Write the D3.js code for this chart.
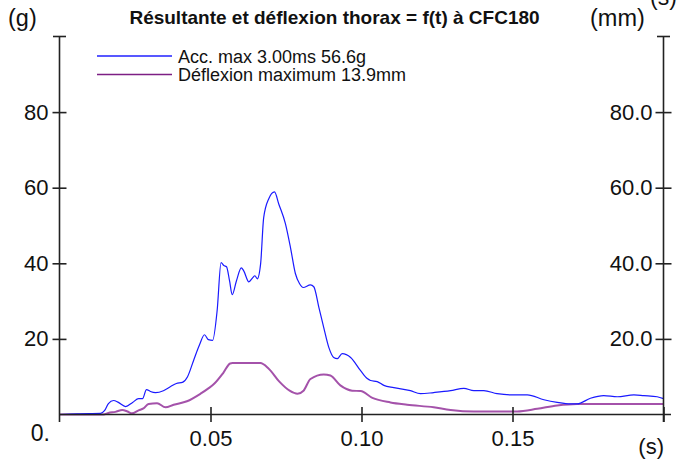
<!DOCTYPE html>
<html><head><meta charset="utf-8">
<script src="https://cdn.jsdelivr.net/npm/d3@7"></script>
<style>body{margin:0;background:#fff}svg{display:block}text{font-family:"Liberation Sans",Arial,sans-serif;fill:#111}</style>
</head><body><svg id="c" width="682" height="459"></svg>
<script>
const title = "Résultante et déflexion thorax = f(t) à CFC180";
const legendLabels = ["Acc. max 3.00ms 56.6g", "Déflexion maximum 13.9mm"];
const yTicksLeft = [20, 40, 60, 80];
const yTicksRight = [20, 40, 60, 80];
const xTicks = [0.05, 0.10, 0.15, 0.20];
const xTickLabels = ["0.05", "0.10", "0.15", ""];

const accT = [0,0.006,0.0136,0.0149,0.0162,0.0179,0.0195,0.0219,0.0242,0.0262,0.0275,0.0288,0.0301,0.0318,0.0344,0.0368,0.0387,0.0407,0.0424,0.0444,0.0464,0.0480,0.0493,0.0507,0.0522,0.0535,0.0544,0.0553,0.0563,0.0572,0.0586,0.0602,0.0610,0.0627,0.0640,0.0647,0.0655,0.0666,0.0676,0.0693,0.0712,0.0726,0.0748,0.0765,0.0781,0.0795,0.0807,0.0831,0.0842,0.0859,0.0875,0.0892,0.0908,0.0920,0.0936,0.0964,0.0997,0.1019,0.1030,0.1052,0.1074,0.1107,0.1162,0.1195,0.1239,0.1295,0.1339,0.1372,0.1405,0.1449,0.1493,0.1549,0.1604,0.1648,0.1692,0.1714,0.1758,0.1802,0.1847,0.1902,0.1935,0.1979,0.2000];
const accV = [0,0.2,0.3,1.0,2.9,3.7,3.2,2.1,3.2,4.2,4.2,6.6,6.1,5.8,6.3,7.4,8.2,8.5,10.0,14.3,18.5,21.1,19.8,19.6,27.5,40.2,39.4,39.1,35.4,31.7,35.4,38.8,38.0,35.1,36.2,36.7,35.9,39.9,52.0,57.1,58.9,55.7,50.5,44.1,37.3,34.6,33.6,34.3,33.8,28.3,23.0,17.7,15.1,14.8,16.1,15.1,11.6,9.5,9.0,8.7,7.7,7.1,6.3,5.5,5.8,6.3,6.9,6.3,6.3,5.5,5.2,5.2,3.9,3.2,2.8,2.8,4.3,5.0,4.7,5.2,5.0,4.7,4.2];

const defT = [0,0.0146,0.0162,0.0185,0.0208,0.0225,0.0240,0.0262,0.0278,0.0295,0.0323,0.0351,0.0378,0.0422,0.0467,0.0493,0.0513,0.0543,0.0565,0.0573,0.0665,0.0692,0.0728,0.0762,0.0788,0.0808,0.0831,0.0875,0.0897,0.0930,0.0969,0.0997,0.1036,0.1096,0.1151,0.1239,0.1295,0.1372,0.1515,0.1582,0.1648,0.1714,0.2000];
const defV = [0,0,0.4,0.7,1.2,0.8,0.3,1.1,1.6,2.8,3.0,1.9,2.6,3.5,5.5,6.9,8.2,11.1,13.5,13.6,13.6,12.2,8.7,6.3,5.5,6.3,9.4,10.6,10.3,7.7,6.3,6.2,4.4,3.2,2.6,1.9,1.2,0.8,0.8,1.5,2.4,2.8,2.8];

const svg = d3.select("#c");
const x = d3.scaleLinear().domain([0, 0.2]).range([59.5, 663.5]);
const y = d3.scaleLinear().domain([0, 100]).range([414.5, 36.5]);
const axisCol = "#222";

// curves
const line = d3.line().x(d => x(d[0])).y(d => y(d[1])).curve(d3.curveMonotoneX);
svg.append("path").datum(defT.map((t,i)=>[t,defV[i]])).attr("d", line)
  .attr("fill","none").attr("stroke","#a452aa").attr("stroke-width",2);
svg.append("path").datum(accT.map((t,i)=>[t,accV[i]])).attr("d", line)
  .attr("fill","none").attr("stroke","#1a1aff").attr("stroke-width",1.2);

// axes lines
const g = svg.append("g").attr("stroke", axisCol).attr("stroke-width", 1.6);
g.append("line").attr("x1", x(0)).attr("x2", x(0)).attr("y1", y(100)).attr("y2", 422);
g.append("line").attr("x1", x(0.2)).attr("x2", x(0.2)).attr("y1", y(100)).attr("y2", 422);
g.append("line").attr("x1", x(0)).attr("x2", 671).attr("y1", y(0)).attr("y2", y(0));
[x(0), x(0.2)].forEach(px => g.append("line").attr("x1", px-6.5).attr("x2", px+6.5).attr("y1", y(100)).attr("y2", y(100)));

function styleAxis(sel) {
  sel.select(".domain").remove();
  sel.selectAll(".tick line").attr("stroke", axisCol).attr("stroke-width", 1.6);
  sel.selectAll("text").style("font-size", "22px").attr("fill", "#111");
}
const la = svg.append("g").attr("transform", `translate(${x(0)},0)`)
  .call(d3.axisLeft(y).tickValues(yTicksLeft).tickSize(7).tickPadding(4).tickFormat(d3.format("d")));
styleAxis(la); la.selectAll(".tick line").attr("x2", 7).attr("x1", -7);
la.selectAll(".tick text").attr("x", -11);

const ra = svg.append("g").attr("transform", `translate(${x(0.2)},0)`)
  .call(d3.axisLeft(y).tickValues(yTicksRight).tickSize(7).tickFormat(d3.format(".1f")));
styleAxis(ra); ra.selectAll(".tick line").attr("x2", 8).attr("x1", -8);
ra.selectAll(".tick text").attr("x", -11);

const xa = svg.append("g").attr("transform", `translate(0,${y(0)})`)
  .call(d3.axisBottom(x).tickValues(xTicks).tickSize(7.5).tickFormat((d,i)=>xTickLabels[i]));
styleAxis(xa); xa.selectAll(".tick line").attr("y1", -7.5).attr("y2", 7.5);
xa.selectAll(".tick text").attr("y", 16);

// extra labels
const T = (txt, px, py, opts={}) => svg.append("text").attr("x", px).attr("y", py)
  .attr("text-anchor", opts.anchor || "start").style("font-size", (opts.size||22)+"px")
  .style("font-weight", opts.weight || "normal").text(txt);
T("0.", 50, 441, {anchor:"end", size:23});
T("(s)", 664, 454, {anchor:"end"});
T("(g)", 8, 26, {size:23.5});
T("(mm)", 590, 26, {size:23.5});
T("(s)", 650, 5, {size:23});
T(title, 334.5, 24, {anchor:"middle", size:19, weight:"bold"});

// legend
const legCols = ["#2020ff", "#7d1f84"];
legendLabels.forEach((lab, i) => {
  const ly = 56 + i*18.5;
  svg.append("line").attr("x1", 97).attr("x2", 172).attr("y1", ly).attr("y2", ly)
    .attr("stroke", legCols[i]).attr("stroke-width", 1.4);
  T(lab, 178, ly + 6.5, {size:18});
});
</script></body></html>
